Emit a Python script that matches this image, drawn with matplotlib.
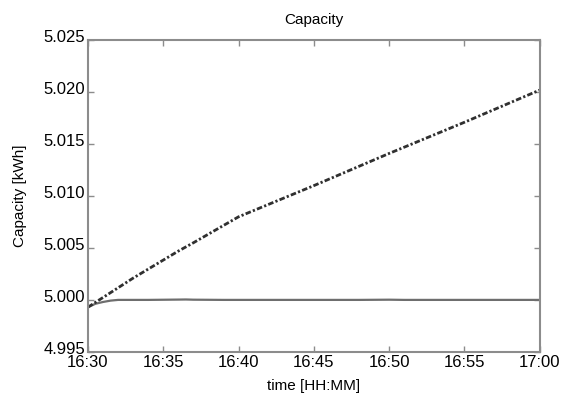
import matplotlib
matplotlib.use("Agg")
import matplotlib.pyplot as plt
import matplotlib.transforms as mtransforms

plt.rcParams['font.family'] = ['Liberation Sans', 'DejaVu Sans']

# minutes after 16:30
t_charge = [0, 3, 6, 7, 10, 15, 20, 25, 30]
cap_charge = [4.9993, 5.0021, 5.0047, 5.0055, 5.0080, 5.0110, 5.0141, 5.0171, 5.0202]

t_hold = [0, 0.5, 1, 1.5, 2, 4, 6, 6.5, 7, 9, 12, 15, 18, 20, 21, 22, 24, 27, 30]
cap_hold = [4.9993, 4.99963, 4.9998, 4.99993, 5.0, 5.0, 5.00003, 5.00004, 5.00002,
            5.0, 5.0, 5.0, 5.0, 5.00002, 5.0, 5.0, 5.0, 5.0, 5.0]

xticks = [0, 5, 10, 15, 20, 25, 30]
xticklabels = ['16:30', '16:35', '16:40', '16:45', '16:50', '16:55', '17:00']
yticks = [4.995, 5.000, 5.005, 5.010, 5.015, 5.020, 5.025]

fig = plt.figure(figsize=(5.64, 3.94), dpi=100)
ax = fig.add_axes([0.156, 0.107, 0.801, 0.791])

ax.plot(t_hold, cap_hold, color='#6e6e6e', lw=1.6)
ax.plot(t_charge, cap_charge, color='#303030', lw=2.0,
        linestyle=(0, (2, 0.8, 0.8, 0.8)))

ax.set_xlim(0, 30)
ax.set_ylim(4.995, 5.025)
ax.set_xticks(xticks)
ax.set_xticklabels(xticklabels)
ax.set_yticks(yticks)
ax.set_yticklabels(['%.3f' % v for v in yticks])

for s in ax.spines.values():
    s.set_color('#8c8c8c')
    s.set_linewidth(1.5)
ax.tick_params(direction='in', top=True, right=True, length=4, width=1,
               color='#8c8c8c', labelsize=12, pad=2)

# nudge y tick labels up a little, like the original
shift = mtransforms.ScaledTranslation(0, 3 / 72, fig.dpi_scale_trans)
for lab in ax.get_yticklabels():
    lab.set_transform(lab.get_transform() + shift)

ax.set_title('Capacity', fontsize=11, pad=12)
ax.set_xlabel('time [HH:MM]', fontsize=11, labelpad=7)
ax.set_ylabel('Capacity [kWh]', fontsize=11, labelpad=12)

fig.savefig('out.png', dpi=100)
